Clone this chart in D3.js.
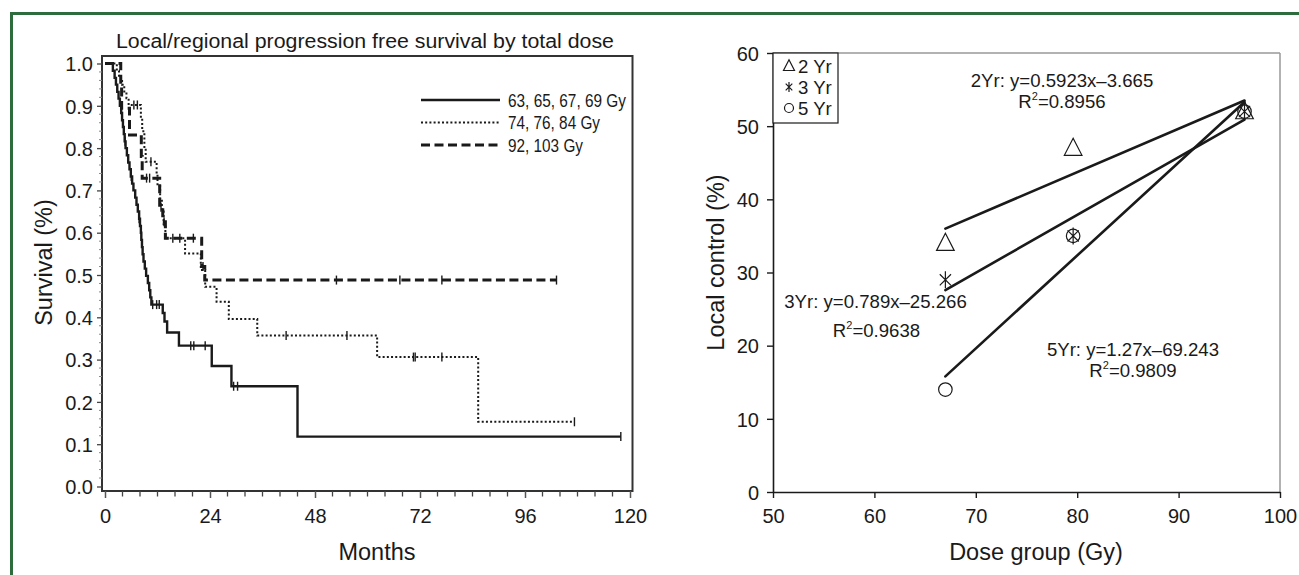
<!DOCTYPE html>
<html><head><meta charset="utf-8">
<script src="https://cdn.jsdelivr.net/npm/d3@7"></script>
<style>
html,body{margin:0;padding:0;background:#fff;}
svg{display:block;font-family:"Liberation Sans",Arial,Helvetica,sans-serif;}
</style></head><body>
<svg id="c" width="1299" height="575"></svg>
<script>
// ---------------- DATA: left panel (Kaplan-Meier) ----------------
const kmTitle = "Local/regional progression free survival by total dose";
const kmGroups = ["63, 65, 67, 69 Gy", "74, 76, 84 Gy", "92, 103 Gy"];
// group 1: 63-69 Gy (solid)
const g1Times = [1.8,2.2,2.5,2.8,3.1,3.4,3.7,3.9,4.1,4.3,4.5,4.7,5.0,5.3,5.6,5.9,6.2,6.5,6.9,7.2,7.5,7.8,8.0,8.2,8.3,8.45,8.6,8.8,9.1,9.4,9.8,10.1,10.35,10.6,13.2,13.6,14.2,16.9,24.4,28.9,44.0];
const g1Surv  = [0.983,0.966,0.95,0.933,0.917,0.9,0.883,0.866,0.85,0.833,0.816,0.8,0.783,0.766,0.75,0.733,0.716,0.7,0.683,0.666,0.65,0.633,0.616,0.6,0.583,0.566,0.549,0.532,0.515,0.498,0.481,0.464,0.447,0.43,0.41,0.39,0.364,0.333,0.285,0.237,0.118];
const g1Censor = [3.6,4.6,6.0,7.8,10.9,11.8,12.4,19.6,20.3,22.9,29.4,30.3,117.9];
const g1End = 117.9;
// group 2: 74-84 Gy (dotted)
const g2Times = [2.7,3.2,3.9,4.4,4.9,5.4,8.2,8.5,9.0,9.3,11.8,12.0,12.6,13.0,13.4,13.8,18.3,21.9,22.9,25.5,28.3,34.8,62.2,85.3];
const g2Surv  = [0.983,0.966,0.95,0.934,0.918,0.902,0.87,0.84,0.80,0.768,0.74,0.71,0.68,0.65,0.62,0.587,0.551,0.512,0.472,0.437,0.396,0.357,0.306,0.153];
const g2Censor = [6.6,7.4,10.5,41.4,55.3,70.5,70.9,77.0,107.3];
const g2End = 107.3;
// group 3: 92-103 Gy (dashed)
const g3Times = [3.6,3.8,5.6,8.3,8.5,12.5,13.2,13.8,22.1,22.8];
const g3Surv  = [0.947,0.894,0.831,0.78,0.729,0.66,0.626,0.587,0.52,0.488];
const g3Censor = [9.5,10.2,12.8,13.5,15.5,17.1,20.2,22.4,52.9,67.4,77.0,103.2];
const g3End = 103.2;
const monthTicks = [0,24,48,72,96,120];
const survTicks = [0,0.1,0.2,0.3,0.4,0.5,0.6,0.7,0.8,0.9,1.0];

// ---------------- DATA: right panel (dose response) ----------------
const doseGroups = [67, 79.6, 96.5];
const lc2yr = [34, 47, 52];
const lc3yr = [29, 35, 52];
const lc5yr = [14, 35, 52];
const fitDose = [67, 96.5];
const fit2yr = [36.0, 53.5];
const fit3yr = [27.6, 50.9];
const fit5yr = [15.8, 53.3];
const fitEq = ["2Yr: y=0.5923x\u20133.665", "3Yr: y=0.789x\u201325.266", "5Yr: y=1.27x\u201369.243"];
const fitR2 = ["0.8956", "0.9638", "0.9809"];
const legendR = ["2 Yr", "3 Yr", "5 Yr"];
const doseTicks = [50,60,70,80,90,100];
const lcTicks = [0,10,20,30,40,50,60];

// ---------------- DRAW ----------------
const svg = d3.select("#c");
const ink = "#1a1a1a";
const green = "#2e6b3d";

// green frame
svg.append("line").attr("x1",10).attr("x2",1299).attr("y1",13.5).attr("y2",13.5)
  .attr("stroke",green).attr("stroke-width",3);
svg.append("line").attr("x1",11.5).attr("x2",11.5).attr("y1",12).attr("y2",575)
  .attr("stroke",green).attr("stroke-width",3);

// ===== LEFT =====
const xL = d3.scaleLinear().domain([0,120]).range([105,630]);
const yL = d3.scaleLinear().domain([0,1]).range([486.5,63.5]);
const L = svg.append("g");

L.append("text").attr("x",365).attr("y",48).attr("text-anchor","middle")
  .attr("font-size",19.5).attr("textLength",498).attr("lengthAdjust","spacingAndGlyphs")
  .attr("fill",ink).text(kmTitle);

// frame
L.append("rect").attr("x",102).attr("y",56).attr("width",530.5).attr("height",435)
  .attr("fill","none").attr("stroke","#333").attr("stroke-width",2);

// x axis
const xAxL = L.append("g").attr("transform","translate(0,491)")
  .call(d3.axisBottom(xL).tickValues(monthTicks).tickSize(7).tickSizeOuter(0));
xAxL.select(".domain").remove();
xAxL.selectAll("line").attr("stroke","#555").attr("stroke-width",1.5);
xAxL.selectAll("text").attr("y",32).attr("dy",null).attr("font-size",20)
  .attr("font-family","Liberation Sans, Arial, sans-serif").attr("fill",ink);
const minorX = d3.range(0,121,4).filter(d => d % 24 !== 0);
L.append("g").selectAll("line").data(minorX).join("line")
  .attr("x1",d=>xL(d)).attr("x2",d=>xL(d)).attr("y1",491).attr("y2",496.5)
  .attr("stroke","#444").attr("stroke-width",1.3);

// y axis
const yAxL = L.append("g").attr("transform","translate(102,0)")
  .call(d3.axisLeft(yL).tickValues(survTicks).tickFormat(d3.format(".1f")).tickSize(5).tickPadding(4).tickSizeOuter(0));
yAxL.select(".domain").remove();
yAxL.selectAll("line").attr("stroke","#444").attr("stroke-width",1.3);
yAxL.selectAll("text").attr("font-size",20).attr("dy","0.36em")
  .attr("font-family","Liberation Sans, Arial, sans-serif").attr("fill",ink);
const minorY = d3.range(0,1.001,0.02).filter(d => Math.abs(d*10 - Math.round(d*10)) > 1e-6);
L.append("g").selectAll("line").data(minorY).join("line")
  .attr("x1",99).attr("x2",102).attr("y1",d=>yL(d)).attr("y2",d=>yL(d))
  .attr("stroke","#888").attr("stroke-width",1);

L.append("text").attr("transform","translate(52,262.5) rotate(-90)").attr("text-anchor","middle")
  .attr("font-size",23.5).attr("fill",ink).text("Survival (%)");
L.append("text").attr("x",377).attr("y",560).attr("text-anchor","middle")
  .attr("font-size",23.5).attr("fill",ink).text("Months");

const styles = [
  {w:2.4, dash:null},
  {w:2.0, dash:"2,2.2"},
  {w:3.0, dash:"9,4.5"}
];
const groups = [
  {t:g1Times, s:g1Surv, c:g1Censor, end:g1End},
  {t:g2Times, s:g2Surv, c:g2Censor, end:g2End},
  {t:g3Times, s:g3Surv, c:g3Censor, end:g3End}
];
const stepLine = d3.line().x(d=>xL(d[0])).y(d=>yL(d[1])).curve(d3.curveStepAfter);
function levelAt(times, surv, t){ const i = d3.bisectRight(times, t); return i===0 ? 1 : surv[i-1]; }

// draw in order dotted, dashed, solid
[1,2,0].forEach(k => {
  const g = groups[k], st = styles[k];
  const pts = [[0,1]].concat(g.t.map((t,i)=>[t,g.s[i]])).concat([[g.end, g.s[g.s.length-1]]]);
  L.append("path").attr("d",stepLine(pts)).attr("fill","none").attr("stroke",ink)
    .attr("stroke-width",st.w).attr("stroke-dasharray",st.dash);
  L.append("g").selectAll("line").data(g.c).join("line")
    .attr("x1",d=>xL(d)).attr("x2",d=>xL(d))
    .attr("y1",d=>yL(levelAt(g.t,g.s,d))-4.5).attr("y2",d=>yL(levelAt(g.t,g.s,d))+4.5)
    .attr("stroke",ink).attr("stroke-width",1.4);
});

// legend
const legW = [118, 92, 75];
kmGroups.forEach((name,i) => {
  const y = 100 + i*22.5;
  L.append("line").attr("x1",421).attr("x2",500).attr("y1",y).attr("y2",y)
    .attr("stroke",ink).attr("stroke-width",styles[i].w).attr("stroke-dasharray",styles[i].dash);
  L.append("text").attr("x",508).attr("y",y+6.6).attr("font-size",18.6)
    .attr("textLength",legW[i]).attr("lengthAdjust","spacingAndGlyphs")
    .attr("fill",ink).text(name);
});

// ===== RIGHT =====
const xR = d3.scaleLinear().domain([50,100]).range([773,1280]);
const yR = d3.scaleLinear().domain([0,60]).range([492,53]);
const R = svg.append("g");

R.append("line").attr("x1",773).attr("x2",1280).attr("y1",53).attr("y2",53).attr("stroke","#999").attr("stroke-width",1.5);
R.append("line").attr("x1",1280).attr("x2",1280).attr("y1",53).attr("y2",492).attr("stroke","#999").attr("stroke-width",1.5);

const xAxR = R.append("g").attr("transform","translate(0,492)")
  .call(d3.axisBottom(xR).tickValues(doseTicks).tickSize(6).tickSizeOuter(0));
xAxR.select(".domain").attr("stroke",ink).attr("stroke-width",1.6);
xAxR.selectAll("line").attr("stroke",ink).attr("stroke-width",1.4);
xAxR.selectAll("text").attr("y",31).attr("dy",null).attr("font-size",20)
  .attr("font-family","Liberation Sans, Arial, sans-serif").attr("fill",ink);

const yAxR = R.append("g").attr("transform","translate(773,0)")
  .call(d3.axisLeft(yR).tickValues(lcTicks).tickSize(6).tickPadding(8).tickSizeOuter(0));
yAxR.select(".domain").attr("stroke",ink).attr("stroke-width",1.6);
yAxR.selectAll("line").attr("stroke",ink).attr("stroke-width",1.4);
yAxR.selectAll("text").attr("font-size",20).attr("dy","0.36em")
  .attr("font-family","Liberation Sans, Arial, sans-serif").attr("fill",ink);

R.append("text").attr("transform","translate(724,262.5) rotate(-90)").attr("text-anchor","middle")
  .attr("font-size",23.5).attr("fill",ink).text("Local control (%)");
R.append("text").attr("x",1036).attr("y",560).attr("text-anchor","middle")
  .attr("font-size",23.5).attr("fill",ink).text("Dose group (Gy)");

// fit lines
[fit2yr, fit3yr, fit5yr].forEach(f => {
  R.append("line").attr("x1",xR(fitDose[0])).attr("y1",yR(f[0]))
    .attr("x2",xR(fitDose[1])).attr("y2",yR(f[1]))
    .attr("stroke",ink).attr("stroke-width",2.6).attr("stroke-linecap","round");
});

// symbols
function tri(g, x, y, s){ g.append("path").attr("d",`M${x},${y-s*0.62}L${x+s*0.55},${y+s*0.45}L${x-s*0.55},${y+s*0.45}Z`)
  .attr("fill","none").attr("stroke",ink).attr("stroke-width",1.2); }
function star(g, x, y, s){ const h=s*0.5, d=s*0.33;
  g.append("path").attr("d",`M${x},${y-h}V${y+h}M${x-d},${y-d}L${x+d},${y+d}M${x-d},${y+d}L${x+d},${y-d}`)
  .attr("fill","none").attr("stroke",ink).attr("stroke-width",1.2); }
function circ(g, x, y, s){ g.append("circle").attr("cx",x).attr("cy",y).attr("r",s*0.45)
  .attr("fill","none").attr("stroke",ink).attr("stroke-width",1.2); }

const P = R.append("g");
doseGroups.forEach((d,i) => {
  circ(P, xR(d), yR(lc5yr[i]), 15);
  star(P, xR(d), yR(lc3yr[i]), 17);
  tri(P, xR(d), yR(lc2yr[i]), 16);
});

// annotations
const eqPos = [[1062,87,108],[875.5,308,336.5],[1133,356,376.5]];
fitEq.forEach((t,i) => {
  const p = eqPos[i];
  R.append("text").attr("x",p[0]).attr("y",p[1]).attr("text-anchor","middle")
    .attr("font-size",18.6).attr("fill",ink).text(t);
  const r2 = R.append("text").attr("x",p[0]+(i===1?1:0)).attr("y",p[2]).attr("text-anchor","middle")
    .attr("font-size",18.6).attr("fill",ink);
  r2.append("tspan").text("R");
  r2.append("tspan").attr("font-size",11).attr("dy",-8).text("2");
  r2.append("tspan").attr("dy",8).text("=" + fitR2[i]);
});

// legend box
R.append("rect").attr("x",773).attr("y",53).attr("width",65).attr("height",70)
  .attr("fill","#fff").attr("stroke",ink).attr("stroke-width",1.2);
const legFns = [tri, star, circ];
legendR.forEach((t,i) => {
  const cy = 66 + i*21;
  legFns[i](R, 789, cy, 10);
  R.append("text").attr("x",798).attr("y",cy+6.5).attr("font-size",18.6).attr("fill",ink).text(t);
});
</script>
</body></html>
